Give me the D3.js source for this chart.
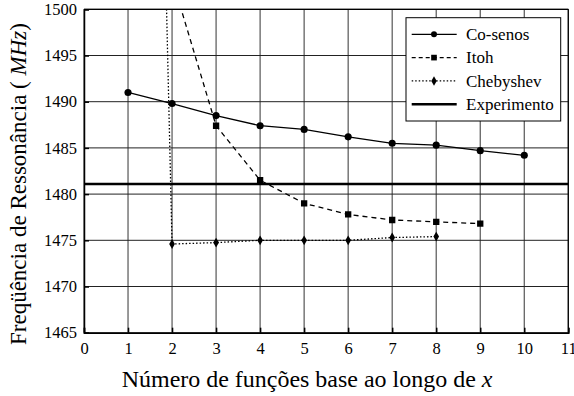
<!DOCTYPE html>
<html>
<head>
<meta charset="utf-8">
<script src="https://cdn.jsdelivr.net/npm/d3@7"></script>
<style>
  body { margin: 0; background: #fff; }
</style>
</head>
<body>
<svg id="chart" width="574" height="396"></svg>
<script>
// Resonance frequency (MHz) versus number of basis functions along x
const cosX = [1, 2, 3, 4, 5, 6, 7, 8, 9, 10];
const cosenos = [1491.0, 1489.8, 1488.5, 1487.4, 1487.0, 1486.2, 1485.5, 1485.3, 1484.7, 1484.2];

const itohX = [2, 3, 4, 5, 6, 7, 8, 9];
const itoh = [1503.3, 1487.4, 1481.5, 1479.0, 1477.8, 1477.2, 1477.0, 1476.8];

const chebX = [1, 2, 3, 4, 5, 6, 7, 8];
const chebyshev = [1678, 1474.6, 1474.75, 1475.0, 1475.0, 1475.0, 1475.3, 1475.4];

const experimento = 1481.1;

const xTicks = [0, 1, 2, 3, 4, 5, 6, 7, 8, 9, 10, 11];
const yTicks = [1465, 1470, 1475, 1480, 1485, 1490, 1495, 1500];

const legendNames = ["Co-senos", "Itoh", "Chebyshev", "Experimento"];

const FONT = "Liberation Serif";

const svg = d3.select("#chart");
const L = 84, R = 568.3, T = 9.3, B = 332.7;

const x = d3.scaleLinear().domain([0, 11]).range([L, R]);
const y = d3.scaleLinear().domain([1465, 1500]).range([B, T]);

// clip region for the plot area
svg.append("defs").append("clipPath").attr("id", "plotClip")
  .append("rect").attr("x", L).attr("y", T).attr("width", R - L).attr("height", B - T);

// grid
const grid = svg.append("g");
grid.selectAll("line.v").data(xTicks).join("line")
  .attr("x1", d => x(d)).attr("x2", d => x(d))
  .attr("y1", T).attr("y2", B)
  .attr("stroke", "#555").attr("stroke-width", 1.2);
grid.selectAll("line.h").data(yTicks).join("line")
  .attr("x1", L).attr("x2", R)
  .attr("y1", d => y(d)).attr("y2", d => y(d))
  .attr("stroke", "#222").attr("stroke-width", 1);

// axes
const xAxis = d3.axisBottom(x).tickValues(xTicks).tickSize(-5).tickPadding(10).tickFormat(d3.format("d"));
const yAxis = d3.axisLeft(y).tickValues(yTicks).tickSize(-5).tickPadding(7).tickFormat(d3.format("d"));

const gx = svg.append("g").attr("transform", `translate(0,${B})`).call(xAxis);
const gy = svg.append("g").attr("transform", `translate(${L},0)`).call(yAxis);
[gx, gy].forEach(g => {
  g.select(".domain").attr("stroke", "#000").attr("stroke-width", 1.5);
  g.selectAll(".tick line").attr("stroke", "#000").attr("stroke-width", 1.5);
  g.selectAll(".tick text").style("font-family", FONT).style("font-size", "16.5px").attr("fill", "#000");
});
gx.selectAll(".tick text").attr("dy", "0.71em");

// experiment reference line
svg.append("line")
  .attr("x1", L).attr("x2", R)
  .attr("y1", y(experimento)).attr("y2", y(experimento))
  .attr("stroke", "#000").attr("stroke-width", 2.5);

const plot = svg.append("g").attr("clip-path", "url(#plotClip)");
const line = d3.line().x(d => x(d[0])).y(d => y(d[1]));

const series = [
  { xs: cosX, ys: cosenos, dash: null, width: 1.3, sym: d3.symbolCircle, size: 40 },
  { xs: itohX, ys: itoh, dash: "5,4", width: 1.3, sym: d3.symbolSquare, size: 40 },
  { xs: chebX, ys: chebyshev, dash: "1.5,2", width: 1.3, sym: d3.symbolDiamond, size: 28 }
];

series.forEach(s => {
  const pts = s.xs.map((v, i) => [v, s.ys[i]]);
  plot.append("path").datum(pts)
    .attr("d", line).attr("fill", "none")
    .attr("stroke", "#000").attr("stroke-width", s.width)
    .attr("stroke-dasharray", s.dash);
  plot.selectAll(null).data(pts).join("path")
    .attr("transform", d => `translate(${x(d[0])},${y(d[1])})`)
    .attr("d", d3.symbol().type(s.sym).size(s.size))
    .attr("fill", "#000");
});

// frame top and right
svg.append("line").attr("x1", L).attr("x2", R).attr("y1", T).attr("y2", T).attr("stroke", "#000").attr("stroke-width", 1.2);
svg.append("line").attr("x1", R).attr("x2", R).attr("y1", T).attr("y2", B).attr("stroke", "#000").attr("stroke-width", 1.2);

// legend
const lg = svg.append("g");
lg.append("rect").attr("x", 406).attr("y", 17.7).attr("width", 154.7).attr("height", 103.3)
  .attr("fill", "#fff").attr("stroke", "#000").attr("stroke-width", 1);
const legendStyles = [
  { dash: null, width: 1.3, sym: d3.symbolCircle, size: 28 },
  { dash: "4,3", width: 1.3, sym: d3.symbolSquare, size: 32 },
  { dash: "1.5,2", width: 1.3, sym: d3.symbolDiamond, size: 26 },
  { dash: null, width: 2.5, sym: null }
];
legendNames.forEach((name, i) => {
  const cy = 34.3 + i * 23.3;
  const st = legendStyles[i];
  lg.append("line").attr("x1", 411.7).attr("x2", 456.7).attr("y1", cy).attr("y2", cy)
    .attr("stroke", "#000").attr("stroke-width", st.width).attr("stroke-dasharray", st.dash);
  if (st.sym) {
    lg.append("path").attr("transform", `translate(434,${cy})`)
      .attr("d", d3.symbol().type(st.sym).size(st.size)).attr("fill", "#000");
  }
  lg.append("text").attr("x", 466).attr("y", cy).attr("dy", "0.33em")
    .style("font-family", FONT).style("font-size", "17px").attr("fill", "#000").text(name);
});

// scale a title's font so that it spans the given length
function fitText(sel, target) {
  const base = 20;
  sel.style("font-size", base + "px");
  const w = sel.node().getComputedTextLength();
  if (w > 0) sel.style("font-size", (base * target / w) + "px");
}

// axis titles
const xTitle = svg.append("text").attr("x", 121.7).attr("y", 387)
  .style("font-family", FONT).attr("fill", "#000")
  .call(t => {
    t.append("tspan").text("Número de funções base ao longo de ");
    t.append("tspan").style("font-style", "italic").text("x");
  });
fitText(xTitle, 371);

const yTitle = svg.append("text")
  .attr("transform", "translate(26,345) rotate(-90)")
  .style("font-family", FONT).attr("fill", "#000")
  .call(t => {
    t.append("tspan").text("Freqüência de Ressonância ( ");
    t.append("tspan").style("font-style", "italic").text("MHz");
    t.append("tspan").text(")");
  });
fitText(yTitle, 322);
</script>
</body>
</html>
